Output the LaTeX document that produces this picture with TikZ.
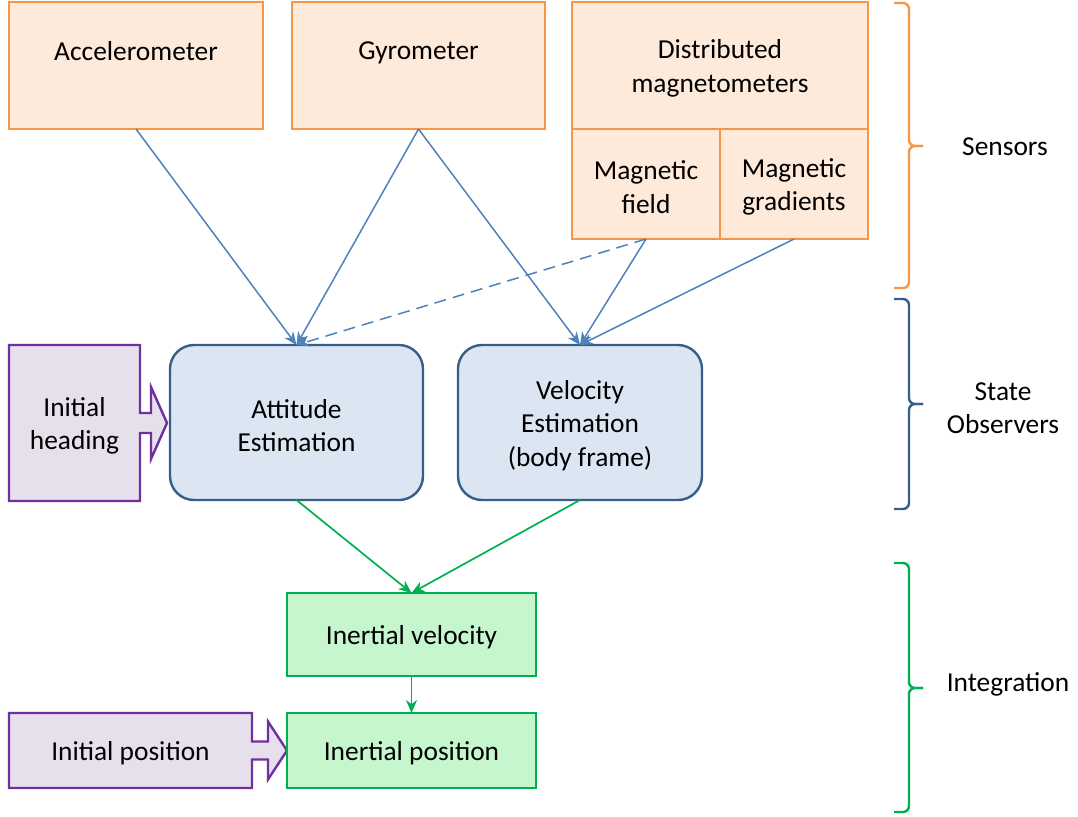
\documentclass[tikz,border=0pt]{standalone}
\usepackage{fontspec}
\setmainfont{Carlito}
\usepackage{tikz}
\usetikzlibrary{calc}
\usetikzlibrary{arrows.meta}
\usetikzlibrary{backgrounds}

\definecolor{sensorfill}{HTML}{FDEADA}
\definecolor{sensorline}{HTML}{F79646}
\definecolor{obsfill}{HTML}{DCE6F2}
\definecolor{obsline}{HTML}{385D8A}
\definecolor{startfill}{HTML}{E6E0EC}
\definecolor{startline}{HTML}{7030A0}
\definecolor{intfill}{HTML}{C6F6CE}
\definecolor{intline}{HTML}{00B050}
\definecolor{flowblue}{HTML}{4F81BD}

\tikzset{
  sensor/.style={rectangle, draw=sensorline, fill=sensorfill, line width=1.4pt, inner sep=0pt, outer sep=0pt, align=center},
  observer/.style={rectangle, rounded corners=12pt, draw=obsline, fill=obsfill, line width=1.2pt, inner sep=0pt, outer sep=0pt, align=center, minimum height=77.5pt},
  integ/.style={rectangle, draw=intline, fill=intfill, line width=1.2pt, inner sep=0pt, outer sep=0pt, minimum width=124.5pt},
  startbox/.style={rectangle, inner sep=0pt, outer sep=0pt, align=center},
  startshape/.style={draw=startline, fill=startfill, line width=1.2pt},
  oneline/.style={text height=12.6pt},
  twolines/.style={text height=29.3pt},
  threelines/.style={text height=46.1pt},
  flow/.style={-{Stealth[length=6.5pt,width=5.5pt]}, draw=flowblue, line width=0.75pt},
  intflow/.style={-{Stealth[length=6.5pt,width=5.5pt]}, draw=intline, line width=0.85pt},
  groupbrace/.style={line width=1.2pt, rounded corners=3pt},
}

\begin{document}
\begin{tikzpicture}[x=0.5pt, y=-0.5pt, font=\fontsize{13.7}{16.8}\selectfont]
\useasboundingbox (0,0) rectangle (1078,816);

% sensors
\node [sensor, minimum width=127pt, minimum height=63.5pt] (acc) at (136,65.5) {};
\node [text depth=0pt] (acctext) at (136,51) {Accelerometer};
\node [sensor, minimum width=126.5pt, minimum height=63.5pt] (gyro) at (418.5,65.5) {};
\node [text depth=0pt] (gyrotext) at (418.5,51) {Gyrometer};
\node [sensor, twolines, minimum width=148pt, minimum height=63.5pt] (magtop) at (720,65.5) {Distributed\\magnetometers};
\node [sensor, twolines, minimum width=74pt, minimum height=55pt] (magfield) at (646,184) {Magnetic\\field};
\node [sensor, twolines, minimum width=74pt, minimum height=55pt] (maggrad) at (794,184) {Magnetic\\gradients};

% observers
\node [observer, twolines, minimum width=126.5pt] (att) at (296.5,422.5) {Attitude\\Estimation};
\node [observer, threelines, minimum width=122pt] (vel) at (580,422.5) {Velocity\\Estimation\\(body frame)};

% initial values
\node [startbox, twolines, minimum width=65.5pt, minimum height=78pt] (inhead) at (74.5,423) {Initial\\heading};
\node [startbox, oneline, minimum width=121.5pt, minimum height=37.5pt] (inpos) at (130.5,750.5) {Initial position};

% integration
\node [integ, oneline, minimum height=41.5pt] (ivel) at (411.5,634.5) {Inertial velocity};
\node [integ, oneline, minimum height=37.5pt] (ipos) at (411.5,750.5) {Inertial position};

\begin{scope}[on background layer]
\draw [startshape] (inhead.north west) -- (inhead.north east) -- ($(inhead.east)+(0,-10)$)
  -- ($(inhead.east)+(11,-10)$) -- ($(inhead.east)+(11,-36)$) -- ($(inhead.east)+(27,0)$)
  -- ($(inhead.east)+(11,36)$) -- ($(inhead.east)+(11,10)$) -- ($(inhead.east)+(0,10)$)
  -- (inhead.south east) -- (inhead.south west) -- cycle;
\draw [startshape] (inpos.north west) -- (inpos.north east) -- ($(inpos.east)+(0,-9)$)
  -- ($(inpos.east)+(16,-9)$) -- ($(inpos.east)+(16,-29)$) -- ($(inpos.east)+(35,0)$)
  -- ($(inpos.east)+(16,29)$) -- ($(inpos.east)+(16,9)$) -- ($(inpos.east)+(0,9)$)
  -- (inpos.south east) -- (inpos.south west) -- cycle;
\end{scope}

\draw [flow] (acc.south) to (att.north);
\draw [flow] (gyro.south) to (att.north);
\draw [flow] (gyro.south) to (vel.north);
\draw [flow, dash pattern=on 6pt off 3.5pt] (magfield.south) to (att.north);
\draw [flow] (magfield.south) to (vel.north);
\draw [flow] (maggrad.south) to (vel.north);

\draw [intflow] (att.south) to (ivel.north);
\draw [intflow] (vel.south) to (ivel.north);
\draw [intflow] (ivel.south) to (ipos.north);

% groups
\node (senslabel) at (1005,147) {Sensors};
\node [align=center] (obslabel) at (1003,408) {State\\Observers};
\node (intlabel) at (1008,684) {Integration};

\draw [groupbrace, sensorline] (894,3) -- (909,3) -- (909,146) -- (923,146);
\draw [groupbrace, sensorline] (923,146) -- (909,146) -- (909,288) -- (894,288);
\draw [groupbrace, obsline] (894,299) -- (909,299) -- (909,404) -- (923,404);
\draw [groupbrace, obsline] (923,404) -- (909,404) -- (909,509) -- (894,509);
\draw [groupbrace, intline] (894,563) -- (909,563) -- (909,688) -- (923,688);
\draw [groupbrace, intline] (923,688) -- (909,688) -- (909,812) -- (894,812);
\end{tikzpicture}
\end{document}
